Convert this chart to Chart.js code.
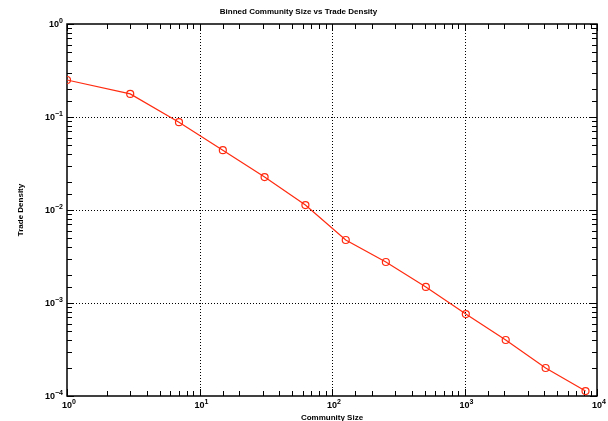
<!DOCTYPE html>
<html>
<head>
<meta charset="utf-8">
<title>Binned Community Size vs Trade Density</title>
<script src="https://cdn.jsdelivr.net/npm/chart.js@4"></script>
<style>
  html, body { margin:0; padding:0; background:#fff; }
  #wrap { width:608px; height:421px; }
</style>
</head>
<body>
<div id="wrap"><canvas id="chart"></canvas></div>
<script>
// data
const communitySize = [1, 3, 7, 15, 31, 63, 127, 255, 511, 1023, 2047, 4095, 8191];
const tradeDensity = [0.25, 0.177, 0.088, 0.044, 0.0226, 0.0113, 0.00476, 0.00276, 0.00149, 0.00076, 0.0004, 0.0002, 0.000113];
const xDecades = [1, 10, 100, 1000, 10000];
const yDecades = [1e-4, 1e-3, 1e-2, 1e-1, 1];

const FAMILY = 'Liberation Sans, Arial, Helvetica, sans-serif';

function isDecade(v) {
  const e = Math.log10(v);
  return Math.abs(e - Math.round(e)) < 1e-9;
}

// draws "10" with a raised exponent; (x, y) = middle of the "10" part
function drawPow(ctx, v, x, y, align) {
  const base = '10';
  const exp = String(Math.round(Math.log10(v))).replace('-', '\u2212');
  ctx.font = 'bold 9px ' + FAMILY;
  const wb = ctx.measureText(base).width;
  ctx.font = 'bold 7px ' + FAMILY;
  const we = ctx.measureText(exp).width;
  let x0;
  if (align === 'right') x0 = x - wb - we;
  else x0 = x - wb / 2;
  ctx.textBaseline = 'middle';
  ctx.textAlign = 'left';
  ctx.font = 'bold 9px ' + FAMILY;
  ctx.fillText(base, x0, y);
  ctx.font = 'bold 7px ' + FAMILY;
  ctx.fillText(exp, x0 + wb, y - 4);
}

// frame, dotted grid, inward ticks, power-of-ten labels
const framePlugin = {
  id: 'frame',
  beforeDatasetsDraw(chart) {
    const { ctx, chartArea: a, scales: { x, y } } = chart;
    ctx.save();
    ctx.strokeStyle = '#000';
    ctx.lineWidth = 1;
    ctx.setLineDash([1, 2]);
    xDecades.slice(1, -1).forEach(v => {
      const px = Math.round(x.getPixelForValue(v)) + 0.5;
      ctx.beginPath(); ctx.moveTo(px, a.top); ctx.lineTo(px, a.bottom); ctx.stroke();
    });
    yDecades.slice(1, -1).forEach(v => {
      const py = Math.round(y.getPixelForValue(v)) + 0.5;
      ctx.beginPath(); ctx.moveTo(a.left, py); ctx.lineTo(a.right, py); ctx.stroke();
    });
    ctx.setLineDash([]);
    x.ticks.forEach(t => {
      const px = Math.round(x.getPixelForValue(t.value)) + 0.5;
      const len = isDecade(t.value) ? 7 : 5;
      ctx.beginPath();
      ctx.moveTo(px, a.bottom); ctx.lineTo(px, a.bottom - len);
      ctx.moveTo(px, a.top); ctx.lineTo(px, a.top + len);
      ctx.stroke();
    });
    y.ticks.forEach(t => {
      const py = Math.round(y.getPixelForValue(t.value)) + 0.5;
      const len = isDecade(t.value) ? 7 : 5;
      ctx.beginPath();
      ctx.moveTo(a.left, py); ctx.lineTo(a.left + len, py);
      ctx.moveTo(a.right, py); ctx.lineTo(a.right - len, py);
      ctx.stroke();
    });
    ctx.lineWidth = 1.5;
    ctx.strokeRect(a.left, a.top, a.right - a.left, a.bottom - a.top);

    ctx.fillStyle = '#000';
    xDecades.forEach(v => drawPow(ctx, v, x.getPixelForValue(v), a.bottom + 10, 'center'));
    yDecades.forEach(v => drawPow(ctx, v, a.left - 4, y.getPixelForValue(v) + 1, 'right'));
    ctx.restore();
  }
};

const titleFont = { family: FAMILY, size: 8, weight: 'bold' };

new Chart(document.getElementById('chart'), {
  type: 'line',
  data: {
    labels: communitySize,
    datasets: [{
      data: communitySize.map((c, i) => ({ x: c, y: tradeDensity[i] })),
      borderColor: '#ff2b10',
      borderWidth: 1.2,
      pointStyle: 'circle',
      pointRadius: 3.5,
      pointBorderWidth: 1.2,
      pointBorderColor: '#ff2b10',
      pointBackgroundColor: 'rgba(0,0,0,0)',
      tension: 0,
      fill: false
    }]
  },
  options: {
    responsive: true,
    maintainAspectRatio: false,
    animation: false,
    events: [],
    layout: { padding: { left: 0, right: 11, top: 0, bottom: 0 } },
    plugins: {
      legend: { display: false },
      tooltip: { enabled: false },
      title: {
        display: true,
        text: 'Binned Community Size vs Trade Density',
        color: '#000',
        font: titleFont,
        padding: { top: 7, bottom: 7.4 }
      }
    },
    scales: {
      x: {
        type: 'logarithmic',
        min: 1, max: 10000,
        grid: { display: false },
        border: { display: false },
        ticks: { display: false, autoSkip: false },
        title: { display: true, text: 'Community Size', color: '#000', font: titleFont, padding: { top: 0, bottom: -2 } },
        afterFit(s) { s.height = 25; }
      },
      y: {
        type: 'logarithmic',
        min: 1e-4, max: 1,
        grid: { display: false },
        border: { display: false },
        ticks: { display: false, autoSkip: false },
        title: { display: true, text: 'Trade Density', color: '#000', font: titleFont, padding: { top: 15.5, bottom: 0 } },
        afterFit(s) { s.width = 67; }
      }
    }
  },
  plugins: [framePlugin]
});
</script>
</body>
</html>
